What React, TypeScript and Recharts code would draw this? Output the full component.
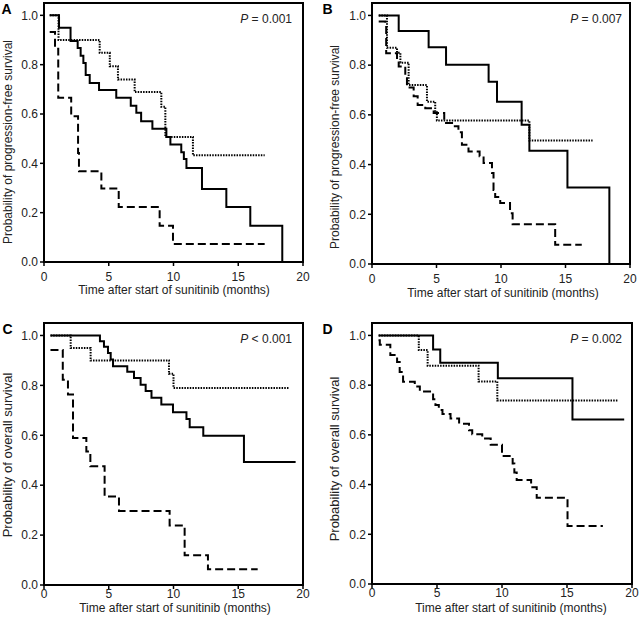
import { LineChart, Line, XAxis, YAxis, ReferenceArea } from "recharts";

type Pt = [number, number]; // [months, survival]

const xTicks = [0, 5, 10, 15, 20];
const yTicks = [0, 0.2, 0.4, 0.6, 0.8, 1.0];
const panelLetters = ["A", "B", "C", "D"];
const pSigns = ["= 0.001", "= 0.007", "< 0.001", "= 0.002"];
const yTitles = [
  "Probability of progression-free survival",
  "Probability of progression-free survival",
  "Probability of overall survival",
  "Probability of overall survival",
];
const xTitle = "Time after start of sunitinib (months)";

// A - progression-free survival
const aSolid: Pt[] = [
  [0.44, 1.0], [1.16, 0.95], [2.05, 0.896], [2.6, 0.868], [2.83, 0.836], [3.04, 0.807],
  [3.22, 0.758], [3.53, 0.726], [4.25, 0.697], [5.58, 0.666], [6.7, 0.633], [7.13, 0.605],
  [7.5, 0.571], [8.37, 0.54], [9.45, 0.507], [9.76, 0.476], [10.6, 0.445], [10.8, 0.418],
  [11.0, 0.381], [12.2, 0.296], [14.08, 0.223], [15.93, 0.147], [18.4, 0], [18.4, 0],
];
const aDotted: Pt[] = [
  [0.44, 1.0], [1.12, 0.9], [4.3, 0.848], [5.08, 0.794], [5.71, 0.74], [7.0, 0.689],
  [9.06, 0.629], [9.37, 0.507], [11.5, 0.433], [17.04, 0.433],
];
const aDashed: Pt[] = [
  [0.44, 0.932], [0.85, 0.865], [1.1, 0.666], [2.1, 0.591], [2.63, 0.442], [2.7, 0.368],
  [4.43, 0.298], [5.77, 0.223], [8.93, 0.147], [9.96, 0.073], [17.04, 0.073],
];

// B - progression-free survival
const bSolid: Pt[] = [
  [0.52, 1.0], [2.07, 0.937], [4.39, 0.872], [5.74, 0.802], [9.04, 0.733], [9.69, 0.653],
  [11.6, 0.56], [12.2, 0.456], [15.15, 0.308], [18.4, 0], [18.4, 0],
];
const bDotted: Pt[] = [
  [0.52, 1.0], [1.16, 0.87], [1.94, 0.85], [2.2, 0.81], [2.84, 0.72], [4.26, 0.653],
  [4.9, 0.615], [5.03, 0.577], [12.2, 0.497], [17.1, 0.497],
];
const bDashed: Pt[] = [
  [0.52, 0.976], [1.03, 0.96], [1.1, 0.848], [1.94, 0.82], [2.07, 0.795], [2.58, 0.755],
  [2.71, 0.71], [3.23, 0.675], [3.54, 0.64], [4.13, 0.627], [4.78, 0.607], [5.6, 0.567],
  [6.33, 0.554], [6.7, 0.53], [6.97, 0.48], [7.48, 0.453], [8.34, 0.433], [8.65, 0.406],
  [9.3, 0.366], [9.42, 0.298], [9.55, 0.27], [9.94, 0.245], [10.7, 0.204], [10.9, 0.16],
  [14.2, 0.077], [16.26, 0.077],
];

// C - overall survival
const cSolid: Pt[] = [
  [0.5, 1.0], [4.32, 0.977], [4.63, 0.955], [4.94, 0.93], [5.15, 0.904], [5.33, 0.877],
  [6.43, 0.855], [6.95, 0.83], [7.46, 0.803], [7.85, 0.777], [8.3, 0.75], [9.06, 0.723],
  [9.96, 0.692], [11.0, 0.665], [11.25, 0.632], [12.3, 0.598], [15.44, 0.493], [19.43, 0.493],
];
const cDotted: Pt[] = [
  [0.5, 1.0], [2.06, 0.95], [3.6, 0.9], [9.65, 0.847], [10.0, 0.79], [18.97, 0.79],
];
const cDashed: Pt[] = [
  [0.5, 0.942], [1.45, 0.823], [1.85, 0.763], [2.24, 0.589], [3.27, 0.535], [3.58, 0.476],
  [4.68, 0.355], [5.79, 0.297], [9.7, 0.238], [10.86, 0.119], [12.66, 0.063], [16.5, 0.063],
];

// D - overall survival
const dSolid: Pt[] = [
  [0.51, 1.0], [4.7, 0.943], [5.25, 0.89], [9.68, 0.828], [15.42, 0.662], [19.4, 0.662],
];
const dDotted: Pt[] = [
  [0.51, 1.0], [3.6, 0.941], [4.28, 0.878], [8.2, 0.815], [9.64, 0.738], [18.92, 0.738],
];
const dDashed: Pt[] = [
  [0.5, 0.981], [0.6, 0.962], [1.41, 0.921], [1.93, 0.893], [2.13, 0.853], [2.39, 0.814],
  [3.29, 0.795], [3.68, 0.774], [4.7, 0.743], [4.88, 0.72], [5.14, 0.7], [5.42, 0.684],
  [6.04, 0.666], [6.7, 0.645], [7.46, 0.619], [7.71, 0.602], [8.48, 0.585], [9.13, 0.56],
  [10.0, 0.515], [10.82, 0.485], [10.95, 0.449], [11.13, 0.418], [12.24, 0.389],
  [12.67, 0.347], [15.04, 0.233], [17.76, 0.233],
];

const FONT = "'Liberation Sans', Arial, Helvetica, sans-serif";

const toData = (pts: Pt[]) => pts.map(([t, s]) => ({ t, s }));

interface PanelProps {
  left: number;
  top: number;
  width: number;
  height: number;
  marginTop: number;
  marginRight: number;
  yAxisWidth: number;
  xAxisHeight: number;
  xTickMargin: number;
  solid: Pt[];
  dotted: Pt[];
  dashed: Pt[];
}

function KmPanel(p: PanelProps) {
  const tickStyle = { fill: "#222", fontSize: 12, fontFamily: FONT };
  return (
    <div style={{ position: "absolute", left: p.left, top: p.top }}>
      <LineChart
        width={p.width}
        height={p.height}
        margin={{ top: p.marginTop, right: p.marginRight, bottom: 0, left: 0 }}
      >
        <XAxis
          type="number"
          dataKey="t"
          domain={[0, 20]}
          ticks={xTicks}
          allowDataOverflow
          height={p.xAxisHeight}
          tick={tickStyle}
          tickSize={4}
          tickMargin={p.xTickMargin}
          axisLine={{ stroke: "#000", strokeWidth: 2 }}
          tickLine={{ stroke: "#000", strokeWidth: 1.5 }}
        />
        <YAxis
          type="number"
          domain={[0, 1.05]}
          ticks={yTicks}
          allowDataOverflow
          width={p.yAxisWidth}
          tick={tickStyle}
          tickSize={4}
          tickMargin={2}
          tickFormatter={(v: number) => v.toFixed(1)}
          axisLine={{ stroke: "#000", strokeWidth: 2 }}
          tickLine={{ stroke: "#000", strokeWidth: 1.5 }}
        />
        <ReferenceArea x1={0} x2={20} y1={0} y2={1.05} fill="none" fillOpacity={0} stroke="#000" strokeWidth={2} />
        <Line data={toData(p.dotted)} dataKey="s" type="stepAfter" stroke="#000" strokeWidth={2}
          strokeDasharray="1.5 1.2" dot={false} isAnimationActive={false} />
        <Line data={toData(p.dashed)} dataKey="s" type="stepAfter" stroke="#000" strokeWidth={2}
          strokeDasharray="8 4" dot={false} isAnimationActive={false} />
        <Line data={toData(p.solid)} dataKey="s" type="stepAfter" stroke="#000" strokeWidth={2}
          dot={false} isAnimationActive={false} />
      </LineChart>
    </div>
  );
}

// annotation anchors in page pixels
const letterPos = [[1.5, 13.5], [322.5, 13.5], [2.5, 334], [322.5, 334]];
const pPos = [[292, 23.3], [622, 23.3], [292, 343], [622, 343]];
const xTitlePos = [[174, 293.5], [503, 296.5], [175, 612], [511, 612]];
const yTitlePos = [[11.5, 142, 12], [338.5, 147, 12], [11.5, 455, 13], [338.5, 459, 13]];

export default function App() {
  return (
    <div style={{ position: "absolute", left: 0, top: 0, width: 639, height: 621, background: "#fff" }}>
      <KmPanel left={0} top={0} width={320} height={310} marginTop={3} marginRight={17}
        yAxisWidth={44} xAxisHeight={48} xTickMargin={6}
        solid={aSolid} dotted={aDotted} dashed={aDashed} />
      <KmPanel left={320} top={0} width={319} height={310} marginTop={3} marginRight={9}
        yAxisWidth={52} xAxisHeight={46} xTickMargin={6}
        solid={bSolid} dotted={bDotted} dashed={bDashed} />
      <KmPanel left={0} top={310} width={320} height={311} marginTop={13} marginRight={17}
        yAxisWidth={44} xAxisHeight={36} xTickMargin={0}
        solid={cSolid} dotted={cDotted} dashed={cDashed} />
      <KmPanel left={320} top={310} width={319} height={311} marginTop={13} marginRight={7}
        yAxisWidth={52} xAxisHeight={37} xTickMargin={0}
        solid={dSolid} dotted={dDotted} dashed={dDashed} />

      <svg width={639} height={621} style={{ position: "absolute", left: 0, top: 0, pointerEvents: "none" }}
        fontFamily={FONT} fill="#222">
        {panelLetters.map((l, i) => (
          <text key={l} x={letterPos[i][0]} y={letterPos[i][1]} fontSize={14} fontWeight="bold" fill="#000">{l}</text>
        ))}
        {pSigns.map((s, i) => (
          <text key={i} x={pPos[i][0]} y={pPos[i][1]} fontSize={12} textAnchor="end">
            <tspan fontStyle="italic">P</tspan>{" " + s}
          </text>
        ))}
        {xTitlePos.map(([x, y], i) => (
          <text key={i} x={x} y={y} fontSize={12} textAnchor="middle">{xTitle}</text>
        ))}
        {yTitlePos.map(([x, y, fs], i) => (
          <text key={i} transform={`translate(${x},${y}) rotate(-90)`} fontSize={fs} textAnchor="middle">{yTitles[i]}</text>
        ))}
      </svg>
    </div>
  );
}
